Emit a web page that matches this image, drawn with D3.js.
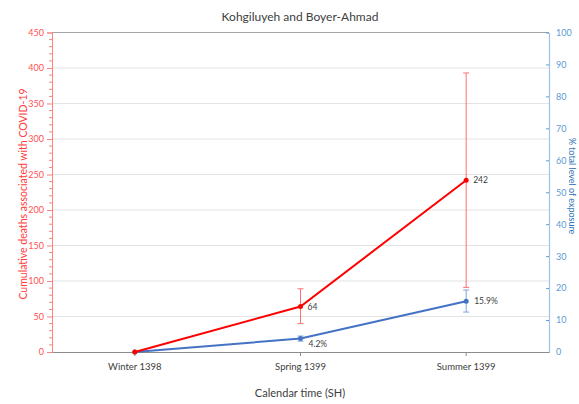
<!DOCTYPE html>
<html><head><meta charset="utf-8">
<script src="https://cdn.jsdelivr.net/npm/d3@7"></script>
<style>body{margin:0;background:#fff}svg{display:block}text{font-family:Lato,"Open Sans",sans-serif}</style>
</head><body><svg id="c" width="579" height="404"></svg>
<script>
const categories = ["Winter 1398","Spring 1399","Summer 1399"];
const deaths = [0, 64, 242];
const deathsLow = [null, 40, 91];
const deathsHigh = [null, 89, 393];
const deathLabels = [null, "64", "242"];
const exposure = [0, 4.2, 15.9];
const exposureLow = [null, 3.4, 12.5];
const exposureHigh = [null, 5.0, 19.4];
const exposureLabels = [null, "4.2%", "15.9%"];
const leftTicks = [0,50,100,150,200,250,300,350,400,450];
const rightTicks = [0,10,20,30,40,50,60,70,80,90,100];

const svg = d3.select("#c");
const L=52, R=549, T=32.5, B=352;
const x = d3.scaleBand().domain(categories).range([L,R]);
const cx = c => x(c) + x.bandwidth()/2;
const yL = d3.scaleLinear().domain([0,450]).range([B,T]);
const yR = d3.scaleLinear().domain([0,100]).range([B,T]);

// gridlines
svg.append("g").selectAll("line").data(leftTicks.filter(d=>d>0 && d<450)).join("line")
  .attr("x1",L).attr("x2",R).attr("y1",d=>yL(d)).attr("y2",d=>yL(d))
  .attr("stroke","#e3e3e3").attr("stroke-width",1);
svg.append("line").attr("x1",L).attr("x2",R).attr("y1",yL(450)).attr("y2",yL(450)).attr("stroke","#a6a6a6").attr("stroke-width",1.2);

// left axis
const gl = svg.append("g").attr("transform",`translate(${L},0)`);
gl.call(d3.axisLeft(yL).tickValues(leftTicks).tickSize(5).tickPadding(3));
gl.call(g=>g.select(".domain").attr("stroke","#ff8080"));
gl.selectAll(".tick line").attr("stroke","#ff8080");
gl.selectAll(".tick text").attr("fill","#ff5050").style("font-size","9px").style("font-family","Lato,sans-serif");
gl.append("g").selectAll("line").data(d3.range(0,451,10).filter(d=>d%50)).join("line")
  .attr("x1",-3).attr("x2",0).attr("y1",d=>yL(d)).attr("y2",d=>yL(d)).attr("stroke","#ff8080");

// right axis
const gr = svg.append("g").attr("transform",`translate(${R},0)`);
gr.call(d3.axisRight(yR).tickValues(rightTicks).tickSizeInner(-3).tickSizeOuter(0).tickPadding(7));
gr.call(g=>g.select(".domain").attr("stroke","#9dc3e6").attr("stroke-width",1.2));
gr.selectAll(".tick line").attr("stroke","#5b9bd5");
gr.selectAll(".tick text").attr("fill","#5b9bd5").style("font-size","9px").style("font-family","Lato,sans-serif");

// bottom axis
const gb = svg.append("g").attr("transform",`translate(0,${B})`);
gb.call(d3.axisBottom(x).tickSize(4).tickSizeOuter(0).tickPadding(7));
gb.call(g=>g.select(".domain").attr("stroke","#8c8c8c").attr("stroke-width",1.2));
gb.selectAll(".tick line").attr("stroke","#8c8c8c");
gb.selectAll(".tick text").attr("fill","#404040").style("font-size","9.5px").style("font-family","Lato,sans-serif");

// error bars
function errBars(low, high, y, color){
  const idx = categories.map((c,i)=>i).filter(i=>low[i]!==null);
  const g = svg.append("g").attr("stroke",color).attr("stroke-width",1);
  g.selectAll(".v").data(idx).join("line").attr("x1",i=>cx(categories[i])).attr("x2",i=>cx(categories[i]))
    .attr("y1",i=>y(low[i])).attr("y2",i=>y(high[i]));
  [low,high].forEach(arr=>{
    g.selectAll(null).data(idx).join("line").attr("x1",i=>cx(categories[i])-3).attr("x2",i=>cx(categories[i])+3)
      .attr("y1",i=>y(arr[i])).attr("y2",i=>y(arr[i]));
  });
}
errBars(deathsLow, deathsHigh, yL, "#ff7070");
errBars(exposureLow, exposureHigh, yR, "#7fa6dc");

// lines
const lineL = d3.line().x((d,i)=>cx(categories[i])).y(d=>yL(d));
const lineR = d3.line().x((d,i)=>cx(categories[i])).y(d=>yR(d));
svg.append("path").attr("d",lineR(exposure)).attr("fill","none").attr("stroke","#4472c4").attr("stroke-width",2);
svg.append("path").attr("d",lineL(deaths)).attr("fill","none").attr("stroke","#ff0000").attr("stroke-width",2);
svg.append("g").selectAll("circle").data(exposure).join("circle")
  .attr("cx",(d,i)=>cx(categories[i])).attr("cy",d=>yR(d)).attr("r",2.5).attr("fill","#4472c4");
svg.append("g").selectAll("circle").data(deaths).join("circle")
  .attr("cx",(d,i)=>cx(categories[i])).attr("cy",d=>yL(d)).attr("r",2.5).attr("fill","#ff0000");

// data labels
svg.append("g").selectAll("text").data(deaths).join("text")
  .attr("x",(d,i)=>cx(categories[i])+7).attr("y",d=>yL(d)+3)
  .text((d,i)=>deathLabels[i]||"").attr("fill","#404040").style("font-size","8.5px");
svg.append("g").selectAll("text").data(exposure).join("text")
  .attr("x",(d,i)=>cx(categories[i])+8).attr("y",(d,i)=>yR(d)+(i===1?8:3))
  .text((d,i)=>exposureLabels[i]||"").attr("fill","#404040").style("font-size","8.5px");

// titles
svg.append("text").attr("x",300).attr("y",21).attr("text-anchor","middle").attr("fill","#404040")
  .style("font-size","12px").text("Kohgiluyeh and Boyer-Ahmad");
svg.append("text").attr("x",300).attr("y",397).attr("text-anchor","middle").attr("fill","#404040")
  .style("font-size","11px").text("Calendar time (SH)");
svg.append("text").attr("transform",`translate(27,194) rotate(-90)`).attr("text-anchor","middle")
  .attr("fill","#ff3b3b").style("font-size","10.5px").text("Cumulative deaths associated with COVID-19");
svg.append("text").attr("transform",`translate(569,186) rotate(90)`).attr("text-anchor","middle")
  .attr("fill","#2e75b6").style("font-size","9px").text("% total level of exposure");
</script></body></html>
